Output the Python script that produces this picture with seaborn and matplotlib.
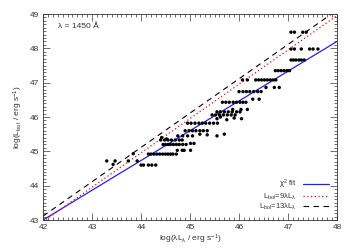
import numpy as np
import pandas as pd
import matplotlib
matplotlib.use("Agg")
import matplotlib.pyplot as plt
import seaborn as sns
from matplotlib.lines import Line2D
from matplotlib.ticker import MultipleLocator

# log(lambda L_lambda) and log(L_bol), row by row
log_lum_1450 = [
    43.30, 43.43, 43.47, 43.74, 43.84, 43.92,
    44.00, 44.05, 44.15, 44.22, 44.30,
    44.15, 44.20, 44.26, 44.32, 44.38, 44.44, 44.50, 44.55, 44.60, 44.65, 44.72,
    44.74, 44.84, 44.88, 45.01,
    44.45, 44.50, 44.55, 44.60, 44.66, 44.72, 44.78, 44.85, 44.92,
    45.01, 45.08,
    44.40, 44.48, 44.55, 44.62, 44.70, 44.78, 44.84,
    44.42, 44.52,
    44.75, 44.85, 44.95, 45.05,
    44.90, 44.98, 45.05, 45.12, 45.20, 45.27, 45.35,
    45.20, 45.35, 45.55, 45.70,
    44.95, 45.02, 45.10, 45.18, 45.25, 45.32, 45.40, 45.48, 45.56,
    45.55, 45.62, 45.75, 45.90, 46.05,
    45.45, 45.52, 45.60, 45.68, 45.76, 45.84, 45.92,
    45.55, 45.62, 45.70, 45.78, 45.86, 45.95, 46.02,
    45.87, 46.04, 46.17,
    45.66, 45.73, 45.80, 45.88, 45.95, 46.02, 46.08, 46.14,
    46.28, 46.41,
    46.00, 46.08, 46.15, 46.22, 46.30, 46.38, 46.45,
    46.55, 46.72, 46.82,
    46.07, 46.17, 46.34, 46.40, 46.46, 46.52, 46.58, 46.64, 46.70, 46.75,
    46.74, 46.80, 46.86, 46.92, 46.98, 47.03,
    47.06, 47.11, 47.16, 47.22, 47.27, 47.33,
    47.06, 47.13, 47.27, 47.44, 47.51, 47.61,
    47.06, 47.13, 47.30, 47.37,
]
log_lbol = [
    44.72, 44.62, 44.72, 44.72, 44.93, 44.72,
    44.60, 44.60, 44.60, 44.60, 44.60,
    44.92, 44.92, 44.92, 44.92, 44.92, 44.92, 44.92, 44.92, 44.92, 44.92, 44.92,
    45.03, 45.03, 45.03, 45.03,
    45.20, 45.20, 45.20, 45.20, 45.20, 45.20, 45.20, 45.20, 45.20,
    45.23, 45.23,
    45.33, 45.33, 45.33, 45.33, 45.33, 45.33, 45.33,
    45.40, 45.36,
    45.45, 45.45, 45.45, 45.45,
    45.60, 45.60, 45.60, 45.60, 45.60, 45.60, 45.60,
    45.50, 45.48, 45.45, 45.50,
    45.82, 45.82, 45.82, 45.82, 45.82, 45.82, 45.82, 45.82, 45.82,
    45.95, 46.00, 45.92, 45.97, 45.95,
    46.06, 46.06, 46.06, 46.06, 46.06, 46.06, 46.06,
    46.15, 46.15, 46.15, 46.15, 46.15, 46.15, 46.15,
    46.22, 46.22, 46.22,
    46.43, 46.43, 46.43, 46.43, 46.43, 46.43, 46.43, 46.43,
    46.52, 46.52,
    46.74, 46.74, 46.74, 46.74, 46.74, 46.74, 46.74,
    46.86, 46.86, 46.86,
    47.08, 47.08, 47.08, 47.08, 47.08, 47.08, 47.08, 47.08, 47.08, 47.08,
    47.35, 47.35, 47.35, 47.35, 47.35, 47.35,
    47.66, 47.66, 47.66, 47.66, 47.66, 47.66,
    47.98, 47.98, 47.98, 47.98, 47.98, 47.98,
    48.47, 48.47, 48.47, 48.47,
]

# line parameters: chi^2 fit and fixed bolometric corrections
x_range = [42.0, 48.0]
fit_slope = 0.867
fit_intercept = 43.0 - fit_slope * 42.0
bol_corrections = [9.0, 13.0]

df = pd.DataFrame({"x": log_lum_1450, "y": log_lbol})
xl = np.array(x_range)
lines = pd.DataFrame({
    "x": xl,
    "fit": fit_intercept + fit_slope * xl,
    "bc9": xl + np.log10(bol_corrections[0]),
    "bc13": xl + np.log10(bol_corrections[1]),
})

sns.set_style("ticks")
plt.rcParams["font.family"] = ["Liberation Sans", "DejaVu Sans"]
plt.rcParams["mathtext.fontset"] = "custom"
plt.rcParams["mathtext.rm"] = "Liberation Sans"
plt.rcParams["mathtext.it"] = "Liberation Sans"

fig = plt.figure(figsize=(3.5, 2.5), dpi=100)
ax = fig.add_axes([0.123, 0.12, 0.84, 0.824])

sns.scatterplot(data=df, x="x", y="y", ax=ax, color="black", s=6,
                marker="o", edgecolor="none", legend=False, zorder=3)
sns.lineplot(data=lines, x="x", y="fit", ax=ax, color="#1f1fff", lw=0.9)
sns.lineplot(data=lines, x="x", y="bc9", ax=ax, color="red", lw=0.9,
             linestyle=(0, (1, 2)))
sns.lineplot(data=lines, x="x", y="bc13", ax=ax, color="black", lw=0.8,
             linestyle=(0, (5, 4)))

ax.set_xlim(42, 48)
ax.set_ylim(43, 49)
ax.xaxis.set_major_locator(MultipleLocator(1))
ax.yaxis.set_major_locator(MultipleLocator(1))
ax.xaxis.set_minor_locator(MultipleLocator(0.1))
ax.yaxis.set_minor_locator(MultipleLocator(0.1))
ax.tick_params(which="both", direction="in", top=True, right=True,
               labelsize=6, width=0.5, colors="#333333", pad=3)
ax.tick_params(which="major", length=5)
ax.tick_params(which="minor", length=2.5)
for sp in ax.spines.values():
    sp.set_linewidth(0.6)
    sp.set_color("#333333")

ax.set_xlabel(r"log($\lambda$L$_\lambda$ / erg s$^{-1}$)", fontsize=6,
              color="#333333", labelpad=1)
ax.set_ylabel(r"log(L$_{bol}$ / erg s$^{-1}$)", fontsize=6,
              color="#333333", labelpad=3)

ax.text(42.3, 48.6, "λ = 1450 Å", fontsize=6, color="#333333")

handles = [
    Line2D([], [], color="#1f1fff", lw=0.9),
    Line2D([], [], color="red", lw=0.9, linestyle=(0, (1, 2))),
    Line2D([], [], color="black", lw=0.8, linestyle=(0, (5, 4))),
]
labels = [r"$\chi^2$ fit", r"L$_{bol}$=9$\lambda$L$_\lambda$",
          r"L$_{bol}$=13$\lambda$L$_\lambda$"]
leg = ax.legend(handles, labels, loc="lower right", markerfirst=False,
                frameon=False, fontsize=5.5, handlelength=3.5,
                labelspacing=0.05, borderaxespad=0.6, handletextpad=0.8)
for t in leg.get_texts():
    t.set_color("#333333")

fig.savefig("out.png", dpi=100)
